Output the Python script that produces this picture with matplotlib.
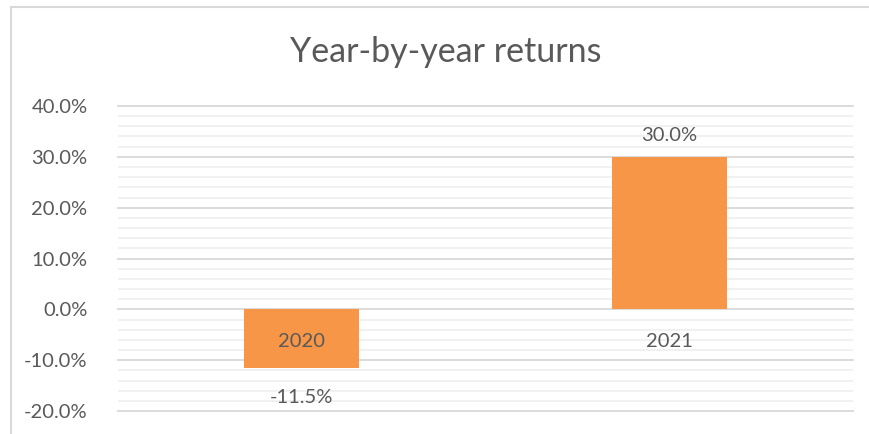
import matplotlib
matplotlib.use("Agg")
import matplotlib.pyplot as plt
from matplotlib.patches import Rectangle
from matplotlib.ticker import MultipleLocator, FuncFormatter

years = ["2020", "2021"]
returns = [-0.115, 0.30]
value_labels = ["-11.5%", "30.0%"]

TEXT = "#595959"
BAR = "#F79646"

plt.rcParams["font.family"] = ["Lato", "DejaVu Sans"]

fig = plt.figure(figsize=(8.7, 4.34), dpi=100)
ax = fig.add_axes([118 / 870, 1 - 411 / 434, 735 / 870, 305 / 434])

# outer chart frame (top and left edges visible, rest cropped off)
fig.patches.append(Rectangle((11 / 870, -0.1), 1.2, 1 - 7.5 / 434 + 0.1,
                             transform=fig.transFigure, fill=False,
                             edgecolor="#d9d9d9", linewidth=1.5))

x = range(len(years))
bars = ax.bar(x, returns, width=0.313, color=BAR, zorder=3)

ax.set_xlim(-0.5, 1.5)
ax.set_ylim(-0.2, 0.4)
ax.yaxis.set_major_locator(MultipleLocator(0.1))
ax.yaxis.set_minor_locator(MultipleLocator(0.02))
ax.yaxis.set_major_formatter(FuncFormatter(lambda v, p: f"{v * 100:.1f}%"))
ax.grid(axis="y", which="major", color="#d9d9d9", linewidth=1.3, zorder=1)
ax.grid(axis="y", which="minor", color="#f0f0f0", linewidth=1.3, zorder=0)
for ln in ax.get_ygridlines():
    ln.set_clip_on(False)
ax.set_xticks([])
ax.tick_params(axis="y", which="both", length=0, pad=22, labelsize=14.5,
               labelcolor=TEXT)
for s in ax.spines.values():
    s.set_visible(False)

# category labels just below the zero line
for i, yr in enumerate(years):
    ax.annotate(yr, (i, 0), xytext=(0, -17), textcoords="offset points",
                ha="center", va="top", fontsize=14.5, color=TEXT, zorder=4)

# value labels outside the bar end
for i, (v, lab) in enumerate(zip(returns, value_labels)):
    off = 9 if v >= 0 else -15
    ax.annotate(lab, (i, v), xytext=(0, off), textcoords="offset points",
                ha="center", va="bottom" if v >= 0 else "top",
                fontsize=14.5, color=TEXT)

fig.text(446 / 870, 1 - 52 / 434, "Year-by-year returns", ha="center",
         va="center", fontsize=24.5, color=TEXT)

fig.savefig("out.png", dpi=100)
